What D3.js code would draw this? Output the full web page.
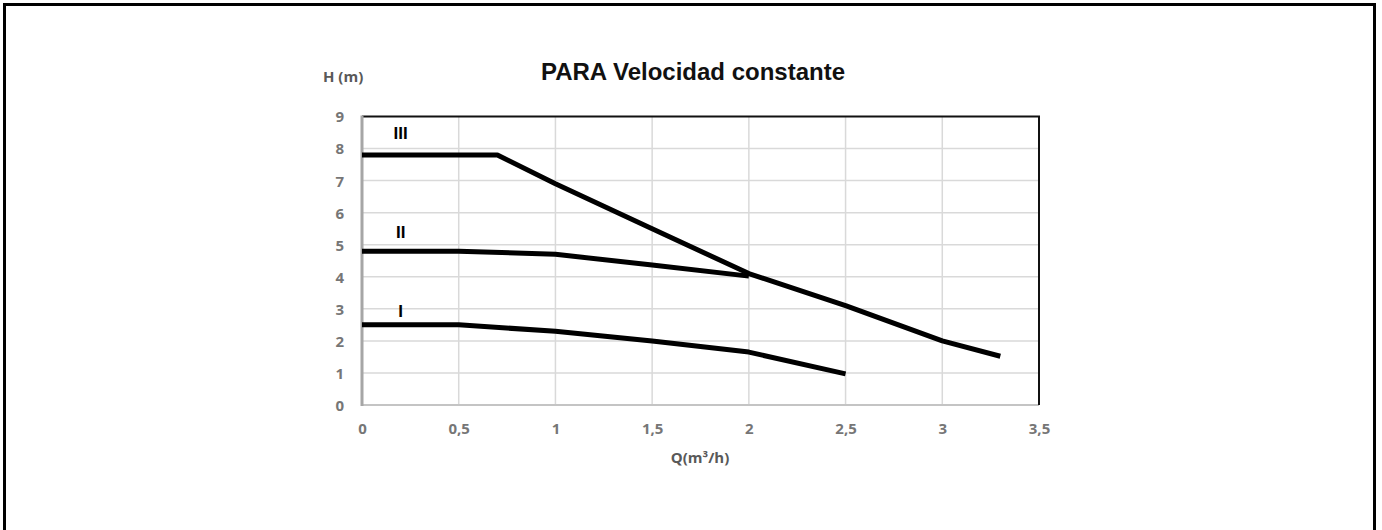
<!DOCTYPE html>
<html>
<head>
<meta charset="utf-8">
<script src="https://cdn.jsdelivr.net/npm/d3@7"></script>
<style>
  html, body { margin: 0; padding: 0; background: #fff; }
  svg { display: block; }
</style>
</head>
<body>
<svg id="chart" width="1382" height="530"></svg>
<script>
// ---- data ----
const chartTitle = "PARA Velocidad constante";
const yAxisTitle = "H (m)";
const xAxisTitle = "Q(m³/h)";
const xTicks = [0, 0.5, 1, 1.5, 2, 2.5, 3, 3.5];
const xTickLabels = ["0", "0,5", "1", "1,5", "2", "2,5", "3", "3,5"];
const yTicks = [0, 1, 2, 3, 4, 5, 6, 7, 8, 9];
const seriesNames = ["I", "II", "III"];
const qI = [0, 0.5, 1, 1.5, 2, 2.5];
const hI = [2.5, 2.5, 2.3, 2.0, 1.65, 0.97];
const qII = [0, 0.5, 1, 1.5, 2];
const hII = [4.8, 4.8, 4.7, 4.37, 4.02];
const qIII = [0, 0.7, 1, 1.5, 2, 2.5, 3, 3.3];
const hIII = [7.8, 7.8, 6.9, 5.5, 4.1, 3.1, 2.0, 1.52];
const labelAt = [[0.2, 2.95], [0.2, 5.4], [0.2, 8.5]];

const svg = d3.select("#chart");

// outer frame (left, top, right)
svg.append("path")
  .attr("d", `M4.5,540 V4.5 H1374.5 V540`)
  .attr("fill", "none").attr("stroke", "#000").attr("stroke-width", 3);

const x = d3.scaleLinear().domain([0, 3.5]).range([362, 1039]);
const y = d3.scaleLinear().domain([0, 9]).range([405, 116.5]);

// gridlines
const grid = svg.append("g");
grid.selectAll("line.v").data(xTicks.slice(1, -1)).enter().append("line")
  .attr("x1", d => x(d)).attr("x2", d => x(d))
  .attr("y1", y(0)).attr("y2", y(9))
  .attr("stroke", "#d9d9d9").attr("stroke-width", 1.5);
grid.selectAll("line.h").data(yTicks.slice(1, -1)).enter().append("line")
  .attr("x1", x(0)).attr("x2", x(3.5))
  .attr("y1", d => y(d)).attr("y2", d => y(d))
  .attr("stroke", "#d9d9d9").attr("stroke-width", 1.5);

// bottom axis (gray)
svg.append("line").attr("x1", x(0)).attr("x2", x(3.5))
  .attr("y1", y(0)).attr("y2", y(0))
  .attr("stroke", "#c4c4c4").attr("stroke-width", 2);
// top & right frame (black)
svg.append("path")
  .attr("d", `M${x(0)},${y(9)} H${x(3.5)} V${y(0)}`)
  .attr("fill", "none").attr("stroke", "#111").attr("stroke-width", 2);
// left axis (gray, thick)
svg.append("line").attr("x1", x(0)).attr("x2", x(0))
  .attr("y1", y(9) - 1).attr("y2", y(0) + 1)
  .attr("stroke", "#a6a6a6").attr("stroke-width", 3);

// axes via d3 (labels only)
const tickFont = "'Open Sans', sans-serif";
const xAxis = d3.axisBottom(x).tickValues(xTicks)
  .tickFormat((d, i) => xTickLabels[i]).tickSize(0).tickPadding(0);
const gx = svg.append("g").attr("transform", `translate(0,${y(0)})`).call(xAxis);
gx.select(".domain").remove();
gx.selectAll("text")
  .attr("dy", null).attr("y", 29)
  .attr("font-family", tickFont).attr("font-size", 15).attr("font-weight", "bold")
  .attr("fill", "#767676");

const yAxis = d3.axisLeft(y).tickValues(yTicks).tickFormat(d3.format("d"))
  .tickSize(0).tickPadding(0);
const gy = svg.append("g").attr("transform", `translate(344,0)`).call(yAxis);
gy.select(".domain").remove();
gy.selectAll("text")
  .attr("dy", "0.36em").attr("x", 0)
  .attr("font-family", tickFont).attr("font-size", 15).attr("font-weight", "bold")
  .attr("fill", "#767676");

// curves
const line = d3.line().x(d => x(d[0])).y(d => y(d[1]));
const series = [d3.zip(qI, hI), d3.zip(qII, hII), d3.zip(qIII, hIII)];
svg.append("g").selectAll("path").data(series).enter().append("path")
  .attr("d", line)
  .attr("fill", "none").attr("stroke", "#000")
  .attr("stroke-width", 5).attr("stroke-linejoin", "round").attr("stroke-linecap", "butt");

// series labels
svg.append("g").selectAll("text").data(seriesNames).enter().append("text")
  .attr("x", (d, i) => x(labelAt[i][0]))
  .attr("y", (d, i) => y(labelAt[i][1]))
  .attr("text-anchor", "middle").attr("dy", "0.36em")
  .attr("font-family", "'Liberation Sans', Arial, sans-serif")
  .attr("font-size", 17).attr("font-weight", "bold").attr("fill", "#000")
  .text(d => d);

// titles
svg.append("text").attr("x", 693).attr("y", 80)
  .attr("text-anchor", "middle")
  .attr("font-family", "'Liberation Sans', Arial, sans-serif")
  .attr("font-size", 24).attr("font-weight", "bold").attr("fill", "#111")
  .text(chartTitle);

svg.append("text").attr("x", 323).attr("y", 82)
  .attr("font-family", tickFont).attr("font-size", 15).attr("font-weight", "bold")
  .attr("fill", "#595959")
  .text(yAxisTitle);

svg.append("text").attr("x", 700).attr("y", 463)
  .attr("text-anchor", "middle")
  .attr("font-family", tickFont).attr("font-size", 15).attr("font-weight", "bold")
  .attr("fill", "#595959")
  .text(xAxisTitle);
</script>
</body>
</html>
